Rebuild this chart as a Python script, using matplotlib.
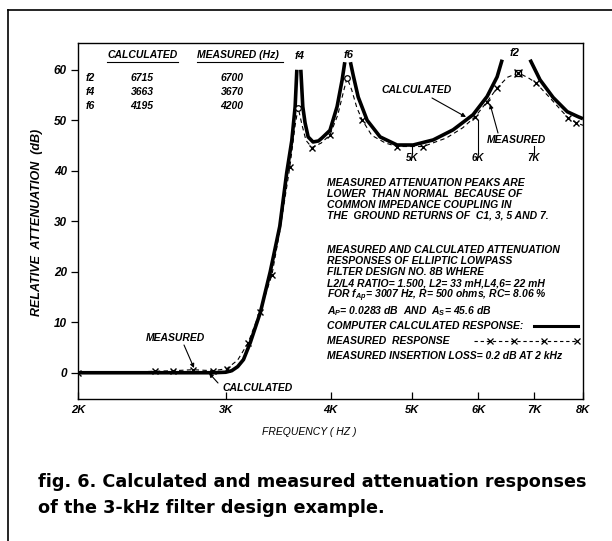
import numpy as np
import matplotlib.pyplot as plt
import matplotlib as mpl
from matplotlib.lines import Line2D
from matplotlib.ticker import FixedLocator, FixedFormatter, NullLocator

mpl.rcParams.update({
    "font.family": "Liberation Sans",
    "font.style": "italic",
    "font.weight": "bold",
    "font.size": 7.5,
    "mathtext.fontset": "custom",
    "mathtext.rm": "Liberation Sans:italic:bold",
    "mathtext.it": "Liberation Sans:italic:bold",
    "axes.linewidth": 1.0,
})

W, H = 612, 541

# computed response, NaN breaks the curve where the poles run off the top
calc_f = [2000, 2500, 2900, 3000, 3050, 3100, 3150, 3210, 3300, 3390, 3480, 3547,
          3597, 3630, 3647, np.nan,
          3687, 3707, 3730, 3762, 3813, 3870, 3908, 3994, 4073, 4130, 4160, np.nan,
          4225, 4256, 4316, 4423, 4584, 4802, 5018, 5302, 5600, 5916, 6148, 6320, 6408, np.nan,
          6918, 7110, 7371, 7661, 7894, 8000]
calc_db = [0, 0, 0, 0.1, 0.4, 1.2, 2.6, 6, 12, 20, 29, 39.6,
           46, 52.7, 60, np.nan,
           60, 52.7, 49.5, 46.7, 45.7, 45.9, 46.5, 48, 52.7, 58, 61.5, np.nan,
           61.5, 59, 54.6, 50, 46.7, 45.1, 45.1, 46.1, 48.1, 51.1, 54.7, 58.6, 62, np.nan,
           62, 58, 54.5, 51.7, 50.7, 50.3]

# measured response
meas_f = [2000, 2300, 2471, 2597, 2742, 2897, 3009, 3100, 3190, 3296, 3406, 3480, 3578,
          3630, 3660, 3700, 3740, 3802, 3900, 3994, 4080, 4150, 4186, 4240, 4300, 4362,
          4480, 4650, 4800, 5000, 5160, 5500, 5750, 5950, 6150, 6320, 6500, 6700, 6900,
          7030, 7300, 7550, 7680, 7850, 8000]
meas_db = [0, 0.1, 0.3, 0.4, 0.6, 0.4, 0.8, 2.5, 5.9, 12.1, 19.4, 28, 40.8,
           49, 52.5, 49, 46, 44.6, 45.5, 47.1, 51, 56, 58.4, 56, 52.5, 50.1,
           47, 45.5, 44.8, 44.8, 44.8, 46.5, 48.5, 50.7, 53.7, 56.4, 58.5, 59.4, 58.3,
           57.4, 54.5, 51.8, 50.5, 49.5, 49.0]
meas_marked = [0, 2, 3, 4, 5, 6, 8, 9, 10, 12, 17, 19, 25, 28, 30, 33, 34, 35, 39, 42, 43]

peak_f = [3660, 4186]
peak_db = [52.5, 58.4]
f2_meas = (6700, 59.4)

xticks = [2000, 3000, 4000, 5000, 6000, 7000, 8000]
xtick_labels = ["2K", "3K", "4K", "5K", "6K", "7K", "8K"]
yticks = [0, 10, 20, 30, 40, 50, 60]

table_rows = [("f2", "6715", "6700"), ("f4", "3663", "3670"), ("f6", "4195", "4200")]

note1 = ["MEASURED ATTENUATION PEAKS ARE",
         "LOWER  THAN NORMAL  BECAUSE OF",
         "COMMON IMPEDANCE COUPLING IN",
         "THE  GROUND RETURNS OF  C1, 3, 5 AND 7."]
note2 = ["MEASURED AND CALCULATED ATTENUATION",
         "RESPONSES OF ELLIPTIC LOWPASS",
         "FILTER DESIGN NO. 8B WHERE",
         "L2/L4 RATIO= 1.500, L2= 33 mH,L4,6= 22 mH",
         r"FOR f$_{Ap}$= 3007 Hz, R= 500 ohms, RC= 8.06 %",
         r"A$_{P}$= 0.0283 dB  AND  A$_{S}$= 45.6 dB"]
note2_y = [250, 261, 272, 283, 295, 311]


def fp(x, y):
    return x / W, 1 - y / H


fig = plt.figure(figsize=(W / 100, H / 100), dpi=100)
ax = fig.add_axes([78 / W, 1 - 399 / H, (583 - 78) / W, (399 - 43) / H])

ax.plot(calc_f, calc_db, color="k", lw=2.6, solid_capstyle="butt")
ax.plot(meas_f, meas_db, color="k", lw=0.8, ls=(0, (4, 3)),
        marker="x", ms=4.5, mew=1.0, markevery=meas_marked)
ax.plot(peak_f, peak_db, ls="none", marker="o", ms=4, mfc="white", mec="k", mew=0.9)
ax.plot(*f2_meas, marker="s", ms=5, mfc="white", mec="k", mew=0.9)
ax.plot(*f2_meas, marker="x", ms=6, mec="k", mew=1.0)

ax.set_xscale("log")
ax.set_xlim(2000, 8000)
ax.set_ylim(-5.2, 65.3)
ax.xaxis.set_major_locator(FixedLocator(xticks))
ax.xaxis.set_major_formatter(FixedFormatter(xtick_labels))
ax.xaxis.set_minor_locator(NullLocator())
ax.set_yticks(yticks)
ax.tick_params(axis="x", direction="in", length=5, width=0.9, labelsize=8, pad=4)
ax.tick_params(axis="y", direction="out", length=5, width=0.9, labelsize=8.5, pad=3)

fig.text(*fp(309, 432), "FREQUENCY ( HZ )", ha="center", va="center", weight="normal")
fig.text(*fp(37, 222), "RELATIVE  ATTENUATION  (dB)", ha="center", va="center",
         rotation=90, fontsize=9)

# table at top left
fig.text(*fp(107, 55), "CALCULATED", ha="left", va="center")
fig.text(*fp(197, 55), "MEASURED (Hz)", ha="left", va="center")
fig.add_artist(Line2D([107 / W, 178 / W], [1 - 62 / H] * 2, color="k", lw=0.8))
fig.add_artist(Line2D([197 / W, 283 / W], [1 - 62 / H] * 2, color="k", lw=0.8))
for i, (name, calc, meas) in enumerate(table_rows):
    y = 78 + i * 14
    fig.text(*fp(86, y), name, ha="left", va="center")
    fig.text(*fp(142, y), calc, ha="center", va="center")
    fig.text(*fp(232, y), meas, ha="center", va="center")

# pole labels
fig.text(*fp(300, 56), "f4", ha="center", va="center", fontsize=8)
fig.text(*fp(349, 55), "f6", ha="center", va="center", fontsize=8)
fig.text(*fp(515, 53), "f2", ha="center", va="center", fontsize=8)

# curve call-outs
arrow = dict(arrowstyle="-|>", lw=0.8, color="k", mutation_scale=6, shrinkA=0, shrinkB=0)
fig.text(*fp(417, 90), "CALCULATED", ha="center", va="center")
ax.annotate("", xy=fp(466, 117), xytext=fp(432, 98), xycoords="figure fraction",
            textcoords="figure fraction", arrowprops=arrow)
fig.text(*fp(516, 140), "MEASURED", ha="center", va="center")
ax.annotate("", xy=fp(490, 104), xytext=fp(498, 133), xycoords="figure fraction",
            textcoords="figure fraction", arrowprops=arrow)
fig.text(*fp(175, 338), "MEASURED", ha="center", va="center")
ax.annotate("", xy=fp(194, 368), xytext=fp(184, 345), xycoords="figure fraction",
            textcoords="figure fraction", arrowprops=arrow)
fig.text(*fp(258, 388), "CALCULATED", ha="center", va="center")
ax.annotate("", xy=fp(209, 373), xytext=fp(218, 383), xycoords="figure fraction",
            textcoords="figure fraction", arrowprops=arrow)

# inner frequency marks
for lab, x, y0 in [("5K", 412, 146), ("6K", 478, 120), ("7K", 534, 146)]:
    fig.add_artist(Line2D([x / W] * 2, [1 - y0 / H, 1 - 152 / H], color="k", lw=0.8))
    fig.text(*fp(x, 158), lab, ha="center", va="center", fontsize=7)

# notes
for i, line in enumerate(note1):
    fig.text(*fp(327, 186 + i * 10.8), line, ha="left", va="baseline")
for line, y in zip(note2, note2_y):
    fig.text(*fp(327, y + 3), line, ha="left", va="baseline")
fig.text(*fp(327, 329), "COMPUTER CALCULATED RESPONSE:", ha="left", va="baseline")
fig.add_artist(Line2D([534 / W, 578 / W], [1 - 326 / H] * 2, color="k", lw=2.2))
fig.text(*fp(327, 344), "MEASURED  RESPONSE", ha="left", va="baseline")
key_x = [474 / W, 490 / W, 514 / W, 544 / W, 577 / W]
fig.add_artist(Line2D(key_x, [1 - 341 / H] * 5, color="k", lw=0.8,
                      ls=(0, (3, 2.5)), marker="x", ms=4, mew=0.9, markevery=[1, 2, 3, 4]))
fig.text(*fp(327, 359), "MEASURED INSERTION LOSS= 0.2 dB AT 2 kHz", ha="left", va="baseline")

# tick labels in the same lettering
for lab in ax.get_xticklabels() + ax.get_yticklabels():
    lab.set_fontweight("bold")

# outer frame
fig.add_artist(Line2D([8 / W, 1], [1 - 10 / H] * 2, color="k", lw=1.2))
fig.add_artist(Line2D([8 / W] * 2, [1 - 10 / H, 0], color="k", lw=1.2))

# caption
cap = dict(ha="left", va="center", fontsize=12.7, weight="bold", style="normal",
           family="DejaVu Sans")
fig.text(*fp(38, 482), "fig. 6. Calculated and measured attenuation responses", **cap)
fig.text(*fp(38, 508), "of the 3-kHz filter design example.", **cap)

fig.savefig("out.png", dpi=100)
